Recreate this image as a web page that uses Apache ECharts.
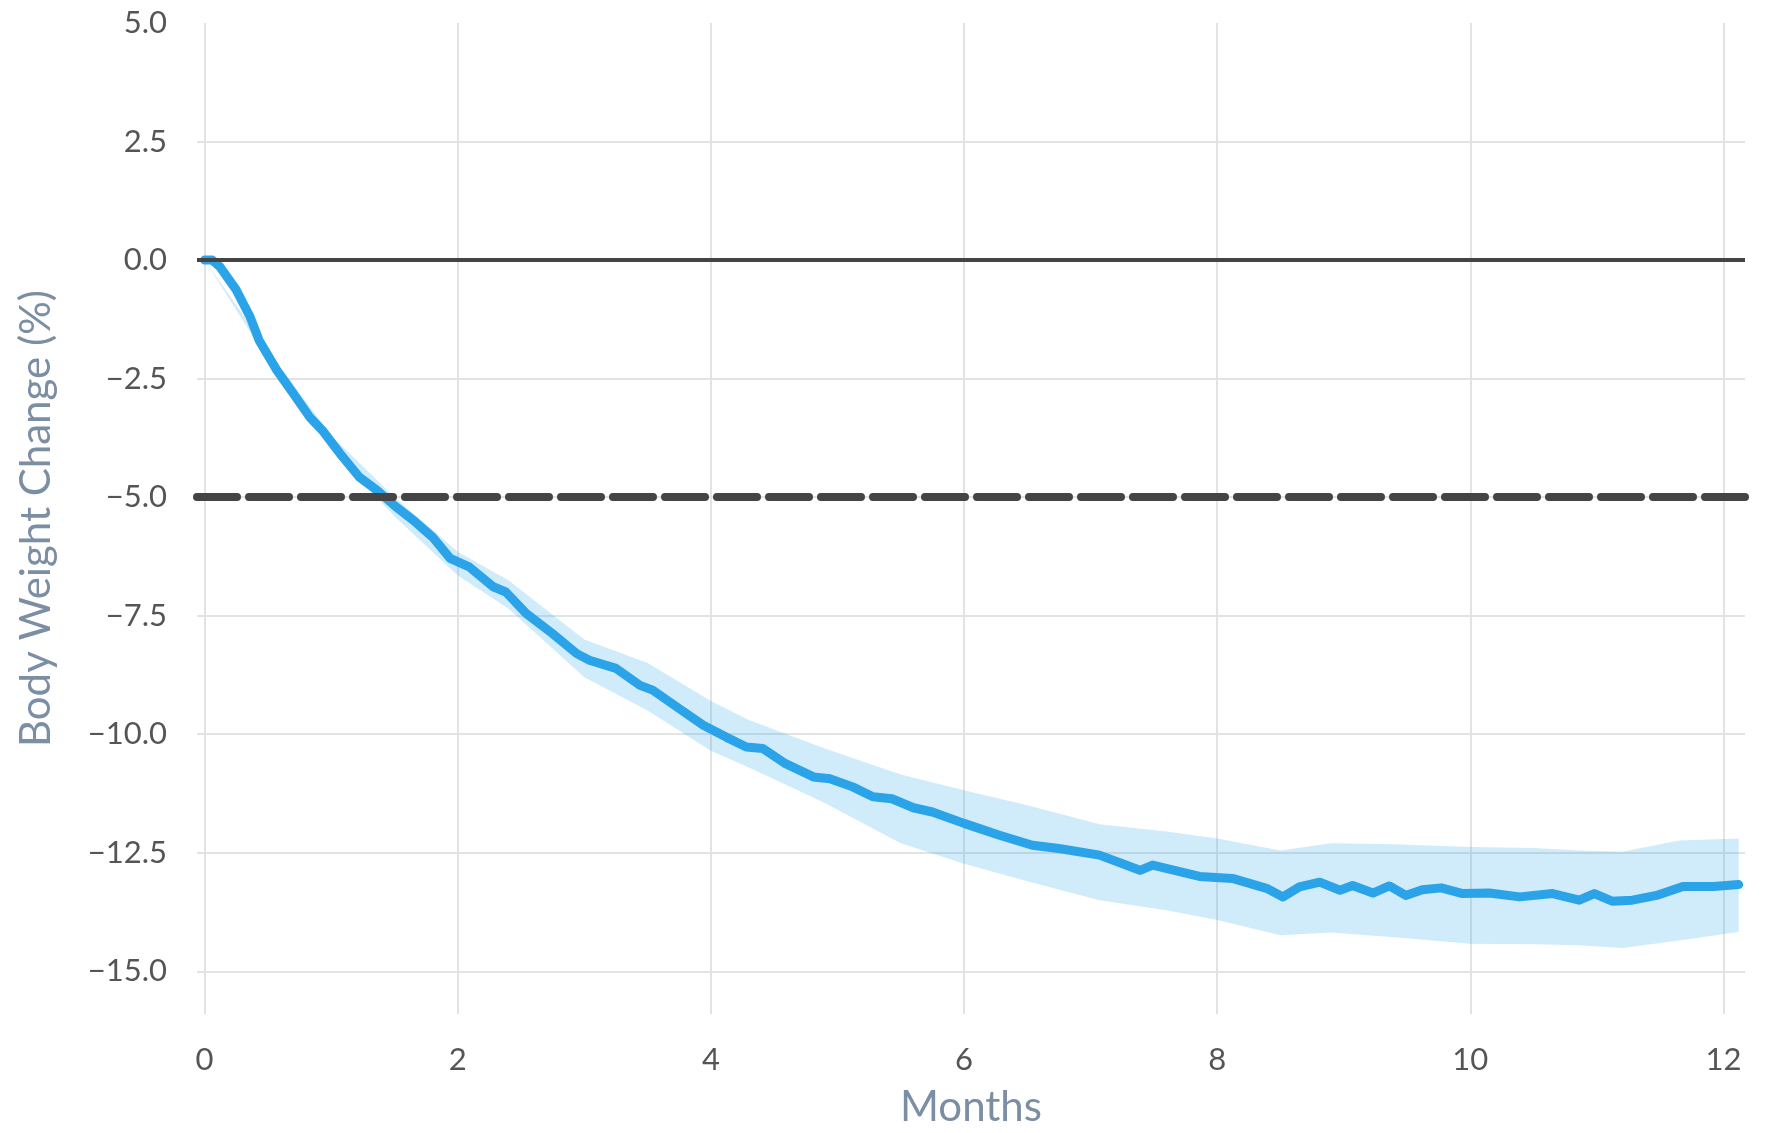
<!DOCTYPE html>
<html>
<head>
<meta charset="utf-8">
<script src="https://cdn.jsdelivr.net/npm/echarts@6/dist/echarts.min.js"></script>
<style>
    html, body { margin: 0; padding: 0; background: #fff; }
    #chart { width: 1767px; height: 1133px; }
</style>
</head>
<body>
<div id="chart"></div>
<script>
// mean body weight change
var months = [0, 0.06, 0.12, 0.25, 0.36, 0.43, 0.57, 0.70, 0.83, 0.93, 1.07, 1.22, 1.36, 1.51, 1.65, 1.80,
    1.94, 2.09, 2.28, 2.38, 2.54, 2.75, 2.94, 3.04, 3.25, 3.44, 3.54, 3.75, 3.94, 4.12, 4.28, 4.41, 4.59,
    4.81, 4.94, 5.12, 5.28, 5.43, 5.6, 5.75, 6.0, 6.28, 6.54, 6.75, 7.07, 7.39, 7.49, 7.86, 8.12, 8.39,
    8.52, 8.65, 8.81, 8.97, 9.07, 9.23, 9.36, 9.49, 9.62, 9.77, 9.94, 10.15, 10.39, 10.65, 10.86, 10.98,
    11.12, 11.28, 11.47, 11.68, 11.92, 12.12];
var meanChange = [0, 0, -0.14, -0.63, -1.2, -1.69, -2.32, -2.81, -3.31, -3.59, -4.08, -4.57, -4.85, -5.2, -5.49, -5.84,
    -6.29, -6.47, -6.89, -7.0, -7.45, -7.88, -8.3, -8.44, -8.61, -8.97, -9.07, -9.46, -9.81, -10.06, -10.27, -10.3, -10.62,
    -10.9, -10.94, -11.11, -11.32, -11.36, -11.55, -11.64, -11.88, -12.13, -12.34, -12.41, -12.55, -12.87, -12.76, -13.0, -13.04, -13.25,
    -13.43, -13.22, -13.12, -13.29, -13.19, -13.35, -13.2, -13.4, -13.28, -13.24, -13.36, -13.35, -13.43, -13.36, -13.5, -13.36,
    -13.52, -13.5, -13.4, -13.21, -13.21, -13.17];

// confidence band
var bandMonths = [0, 0.5, 1.0, 1.5, 2.0, 2.4, 3.0, 3.5, 4.0, 4.3, 4.9, 5.5, 6.0, 6.5, 7.07, 7.6, 8.0, 8.5, 8.9, 9.4,
    10.0, 10.5, 10.86, 11.2, 11.65, 12.12];
var bandUpper = [0, -1.9, -3.7, -5.0, -6.15, -6.75, -8.0, -8.5, -9.3, -9.7, -10.3, -10.85, -11.18, -11.5, -11.9, -12.05,
    -12.2, -12.45, -12.3, -12.32, -12.38, -12.4, -12.45, -12.48, -12.24, -12.2];
var bandLower = [0, -2.1, -4.0, -5.4, -6.65, -7.35, -8.8, -9.5, -10.35, -10.7, -11.45, -12.3, -12.73, -13.1, -13.5, -13.71,
    -13.92, -14.24, -14.18, -14.28, -14.42, -14.43, -14.45, -14.51, -14.35, -14.17];

var xTicks = [0, 2, 4, 6, 8, 10, 12];
var yTicks = [-15, -12.5, -10, -7.5, -5, -2.5, 0, 2.5, 5];
var yGridLines = [-15, -12.5, -10, -7.5, -5, -2.5, 0, 2.5];
var baseline = 0;
var threshold = -5;

var myChart = echarts.init(document.getElementById('chart'));

var lineData = months.map(function (m, i) { return [m, meanChange[i]]; });
var bandData = bandMonths.map(function (m, i) { return [m, bandUpper[i], bandLower[i]]; });

var gridColor = '#e3e3e3';
var tickFont = { color: '#555', fontSize: 31, fontFamily: 'Lato' };

// band drawn once as a polygon: upper edge forward, lower edge back
function renderBand(params, api) {
    if (params.dataIndexInside !== 0) {
        return null;
    }
    var pts = [];
    for (var i = 0; i < bandData.length; i++) {
        pts.push(api.coord([bandData[i][0], bandData[i][1]]));
    }
    for (var j = bandData.length - 1; j >= 0; j--) {
        pts.push(api.coord([bandData[j][0], bandData[j][2]]));
    }
    return {
        type: 'polygon',
        shape: { points: pts },
        style: { fill: 'rgba(42,163,232,0.22)' },
        silent: true
    };
}

option = {
    animation: false,
    grid: { left: 197, right: 22, top: 23, bottom: 119 },
    xAxis: {
        type: 'value',
        min: -0.06,
        max: 12.17,
        name: 'Months',
        nameLocation: 'middle',
        nameGap: 72,
        nameTextStyle: { color: '#7b8ea3', fontSize: 42, fontFamily: 'Lato' },
        axisLine: { show: false },
        axisTick: { show: false, customValues: xTicks },
        axisLabel: Object.assign({ customValues: xTicks, margin: 30 }, tickFont),
        splitLine: { show: true, lineStyle: { color: gridColor, width: 2 } }
    },
    yAxis: {
        type: 'value',
        min: -15.9,
        max: 5,
        name: 'Body Weight Change (%)',
        nameLocation: 'middle',
        nameGap: 140,
        nameTextStyle: { color: '#7b8ea3', fontSize: 42, fontFamily: 'Lato' },
        axisLine: { show: false },
        axisTick: { show: false, customValues: yGridLines },
        axisLabel: Object.assign({
            customValues: yTicks,
            margin: 30,
            formatter: function (v) { return (v < 0 ? '\u2212' + (-v).toFixed(1) : v.toFixed(1)); }
        }, tickFont),
        splitLine: { show: true, lineStyle: { color: gridColor, width: 2 } }
    },
    series: [{
            type: 'custom',
            name: 'band',
            data: bandData,
            encode: { x: 0, y: [1, 2] },
            renderItem: renderBand,
            silent: true,
            z: 1
        },
        {
            type: 'line',
            name: 'mean',
            data: lineData,
            symbol: 'none',
            silent: true,
            lineStyle: { color: '#2aa3e8', width: 9, cap: 'round', join: 'round' },
            z: 3
        },
        {
            type: 'line',
            name: 'ref',
            data: [],
            silent: true,
            z: 4,
            markLine: {
                symbol: 'none',
                silent: true,
                label: { show: false },
                data: [{
                        yAxis: baseline,
                        lineStyle: { color: '#444', width: 4, type: 'solid' }
                    },
                    {
                        yAxis: threshold,
                        lineStyle: { color: '#444', width: 8, type: [40, 12], cap: 'round' }
                    }
                ]
            }
        }
    ]
};

myChart.setOption(option);
</script>
</body>
</html>
